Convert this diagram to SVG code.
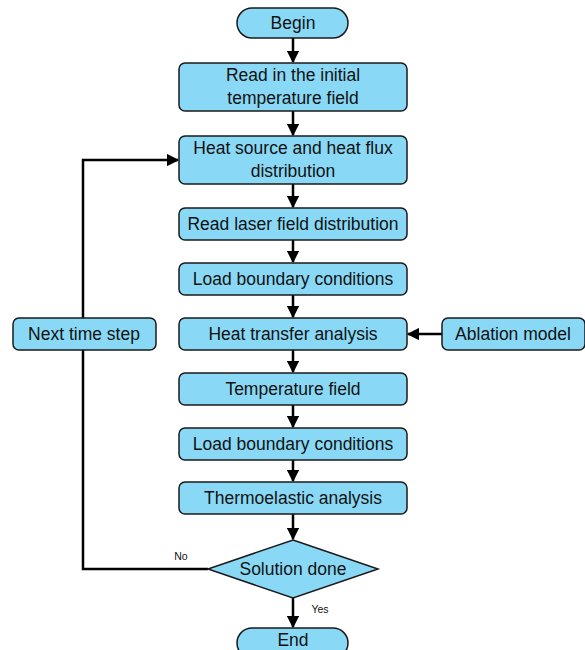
<svg xmlns="http://www.w3.org/2000/svg" width="585" height="650" viewBox="0 0 585 650">
<defs>
<style>
.n{fill:#89d9f6;stroke:#1a1a1a;stroke-width:1.5}
.t{font-family:"Liberation Sans",Arial,sans-serif;font-size:17.5px;fill:#111;text-anchor:middle}
.s{font-family:"Liberation Sans",Arial,sans-serif;font-size:10.5px;fill:#111;text-anchor:middle}
.c{fill:none;stroke:#000;stroke-width:2.5}
</style>
<marker id="a" viewBox="0 0 10 10" refX="9" refY="5" markerWidth="5" markerHeight="5" markerUnits="strokeWidth" orient="auto">
<path d="M0,0 L10,5 L0,10 Z" fill="#000"/>
</marker>
</defs>
<rect width="585" height="650" fill="#fff"/>
<g id="connectors">
<path class="c" d="M293,38 V62" marker-end="url(#a)"/>
<path class="c" d="M293,111 V135" marker-end="url(#a)"/>
<path class="c" d="M293,184 V207" marker-end="url(#a)"/>
<path class="c" d="M293,240 V262" marker-end="url(#a)"/>
<path class="c" d="M293,295 V317" marker-end="url(#a)"/>
<path class="c" d="M293,350 V372" marker-end="url(#a)"/>
<path class="c" d="M293,405 V427" marker-end="url(#a)"/>
<path class="c" d="M293,460 V481" marker-end="url(#a)"/>
<path class="c" d="M293,514 V539" marker-end="url(#a)"/>
<path class="c" d="M293,598 V627" marker-end="url(#a)"/>
<path class="c" d="M208,569 H83 V160 H178" marker-end="url(#a)"/>
<path class="c" d="M442,334 H408" marker-end="url(#a)"/>
<text class="s" x="181" y="560">No</text>
<text class="s" x="320" y="613">Yes</text>
</g>
<g id="begin"><rect class="n" x="237" y="8" width="111" height="30" rx="15"/><text class="t" x="293" y="29">Begin</text></g>
<g id="read-initial"><rect class="n" x="179" y="63" width="228" height="48" rx="6"/><text class="t" x="293" y="81">Read in the initial</text><text class="t" x="293" y="104">temperature field</text></g>
<g id="heat-source"><rect class="n" x="179" y="136" width="228" height="48" rx="6"/><text class="t" x="293" y="154">Heat source and heat flux</text><text class="t" x="293" y="177">distribution</text></g>
<g id="read-laser"><rect class="n" x="179" y="208" width="228" height="32" rx="6"/><text class="t" x="293" y="230">Read laser field distribution</text></g>
<g id="load-bc-1"><rect class="n" x="179" y="263" width="228" height="32" rx="6"/><text class="t" x="293" y="285">Load boundary conditions</text></g>
<g id="heat-transfer"><rect class="n" x="179" y="318" width="228" height="32" rx="6"/><text class="t" x="293" y="340">Heat transfer analysis</text></g>
<g id="temperature-field"><rect class="n" x="179" y="373" width="228" height="32" rx="6"/><text class="t" x="293" y="395">Temperature field</text></g>
<g id="load-bc-2"><rect class="n" x="179" y="428" width="228" height="32" rx="6"/><text class="t" x="293" y="450">Load boundary conditions</text></g>
<g id="thermoelastic"><rect class="n" x="179" y="482" width="228" height="32" rx="6"/><text class="t" x="293" y="504">Thermoelastic analysis</text></g>
<g id="solution-done"><path class="n" d="M293,540 L378,569 L293,598 L208,569 Z"/><text class="t" x="293" y="575">Solution done</text></g>
<g id="end"><rect class="n" x="237" y="628" width="111" height="30" rx="15"/><text class="t" x="293" y="646">End</text></g>
<g id="next-time-step"><rect class="n" x="13" y="318" width="143" height="32" rx="6"/><text class="t" x="84" y="340">Next time step</text></g>
<g id="ablation-model"><rect class="n" x="442" y="318" width="143" height="32" rx="6"/><text class="t" x="513" y="340">Ablation model</text></g>
</svg>
